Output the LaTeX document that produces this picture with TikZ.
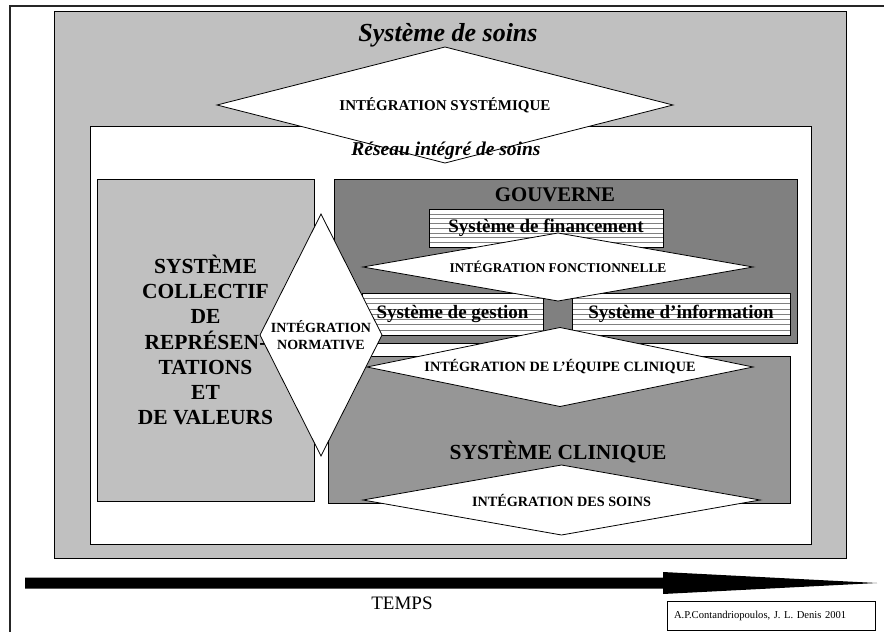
\documentclass[tikz,border=0pt]{standalone}
\usepackage{fontspec}
\setmainfont{Liberation Serif}
\usetikzlibrary{shapes.geometric,calc}
\definecolor{soinsgray}{HTML}{C0C0C0}
\definecolor{gouvgray}{HTML}{808080}
\definecolor{cligray}{HTML}{969696}
\definecolor{stripecol}{HTML}{808080}
\begin{document}
\begin{tikzpicture}[x=1pt,y=-1pt,
  box/.style={rectangle, draw=black, line width=0.8pt, inner sep=0pt, outer sep=0pt, anchor=north west},
  stripebox/.style={box, fill=white, font=\fontsize{19}{22}\selectfont\bfseries,
    path picture={\foreach \k in {1,...,7}{\draw[stripecol, line width=0.5pt]
      ($(path picture bounding box.north west)!\k/8!(path picture bounding box.south west)$) --
      ($(path picture bounding box.north east)!\k/8!(path picture bounding box.south east)$);}}},
  diam/.style={diamond, draw=black, line width=0.8pt, fill=white, inner sep=0pt, outer sep=0pt},
  intlabel/.style={font=\fontsize{14.2}{16.5}\selectfont\bfseries, align=center},
  plain/.style={inner sep=0pt, outer sep=0pt}
]
\useasboundingbox (0,0) rectangle (884,632);

% frame
\coordinate (frTR) at (884,6);
\coordinate (frTL) at (10,6);
\coordinate (frBL) at (10,632);
\draw[line width=2.2pt, black!85] (frTR) -- (frTL) -- (frBL);

% Systeme de soins
\node[box, fill=soinsgray, minimum width=792pt, minimum height=547pt] (soins) at (54,11) {};
\node[plain, font=\fontsize{26}{30}\selectfont\bfseries\itshape] (soinstxt) at (448,35) {Système de soins};

% Reseau
\node[box, fill=white, minimum width=721pt, minimum height=418pt] (reseau) at (90,126) {};

% left box
\node[box, fill=soinsgray, minimum width=217pt, minimum height=322pt, align=center,
      font=\fontsize{21.5}{25.3}\selectfont\bfseries] (collectif) at (97,179)
  {SYSTÈME\\COLLECTIF\\DE\\REPRÉSEN-\\TATIONS\\ET\\DE VALEURS};

% Gouverne and clinique
\node[box, fill=gouvgray, minimum width=463pt, minimum height=164pt] (gouverne) at (334,179) {};
\node[box, fill=cligray, minimum width=462pt, minimum height=147pt] (clinique) at (328,356) {};
\node[plain, font=\fontsize{20.8}{24}\selectfont\bfseries] (gouvtxt) at (555,195) {GOUVERNE};
\node[plain, font=\fontsize{21.5}{25}\selectfont\bfseries] (clintxt) at (558,452) {SYSTÈME CLINIQUE};

% striped boxes
\node[stripebox, minimum width=234pt, minimum height=38pt] (financement) at (429,209) {Système de financement};
\node[stripebox, minimum width=181pt, minimum height=42pt] (gestion) at (362,293) {Système de gestion};
\node[stripebox, minimum width=218pt, minimum height=42pt] (information) at (572,293) {Système d’information};

% diamonds
\node[diam, aspect=3.9, minimum width=456pt, minimum height=116pt, intlabel, font=\fontsize{15}{17}\selectfont\bfseries] (systemique) at (445,105) {INTÉGRATION SYSTÉMIQUE};
\node[plain, font=\fontsize{19.5}{22}\selectfont\bfseries\itshape] (reseautxt) at (446,151) {Réseau intégré de soins};

\node[diam, aspect=5.7, minimum width=390pt, minimum height=68pt, intlabel, font=\fontsize{13.4}{15}\selectfont\bfseries] (fonctionnelle) at (558,267) {INTÉGRATION FONCTIONNELLE};
\node[diam, aspect=4.9, minimum width=386pt, minimum height=79pt, intlabel] (equipe) at (560,367) {INTÉGRATION DE L’ÉQUIPE CLINIQUE};
\node[diam, aspect=5.7, minimum width=397pt, minimum height=70pt, intlabel] (integsoins) at (561.5,500) {INTÉGRATION DES SOINS};
\node[diam, aspect=0.5, minimum width=122pt, minimum height=242pt, intlabel, font=\fontsize{14}{16.5}\selectfont\bfseries] (normative) at (321,335) {INTÉGRATION\\NORMATIVE};

% time arrow
\coordinate (tstart) at (25,583);
\coordinate (ttip) at (877,583);
\fill[black] ($(tstart)+(0,-5.5)$) -- (663,577.5) -- (663,572) -- (ttip) -- (663,594) -- (663,588.5) -- ($(tstart)+(0,5.5)$) -- cycle;
\node[plain, font=\fontsize{19}{22}\selectfont] (temps) at (402,603) {TEMPS};

% credit box
\node[box, minimum width=208pt, minimum height=29pt, text width=200pt, align=left,
      font=\fontsize{10.6}{12}\selectfont] (credit) at (667,601) {\hspace*{3pt}A.P.Contandriopoulos, J. L. Denis 2001};
\end{tikzpicture}
\end{document}
